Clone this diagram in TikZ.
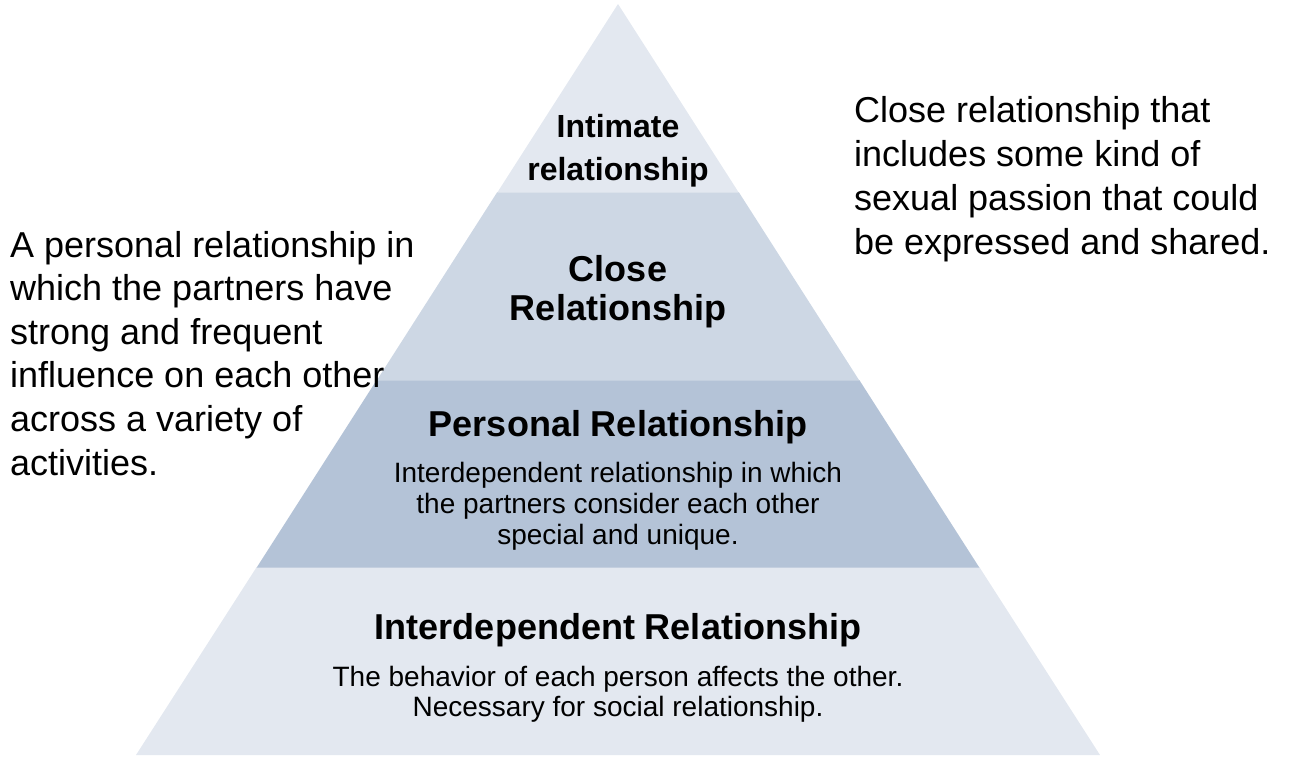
\documentclass[tikz,border=0pt]{standalone}
\usepackage{fontspec}
\setmainfont{Liberation Sans}
\definecolor{layerlight}{HTML}{E3E8F0}
\definecolor{layerclose}{HTML}{CDD7E4}
\definecolor{layerpers}{HTML}{B4C3D7}
\tikzset{
  layer/.style={draw=none},
  title/.style={inner sep=0pt, anchor=base, align=center, font=\bfseries\fontsize{36}{38.5}\selectfont},
  body/.style={inner sep=0pt, anchor=base, align=center, font=\fontsize{28}{31}\selectfont},
  side/.style={inner sep=0pt, anchor=base west, align=left, font=\fontsize{36}{43.6}\selectfont},
}
\begin{document}
\begin{tikzpicture}[x=1pt,y=-1pt]
\useasboundingbox (0,0) rectangle (1306,758);
% pyramid layers
\fill[layer, layerlight] (136,755) -- (1100,755) -- (979.3,567) -- (256.7,567) -- cycle;
\fill[layer, layerpers] (256.7,567.5) -- (979.3,567.5) -- (859.3,380) -- (376.7,380) -- cycle;
\fill[layer, layerclose] (376.7,380.5) -- (859.3,380.5) -- (738.7,192) -- (497.3,192) -- cycle;
\fill[layer, layerlight] (497.3,192.5) -- (738.7,192.5) -- (618,4) -- cycle;
% labels (anchor = baseline of the last line)
\node[title, font=\bfseries\fontsize{32}{43}\selectfont] (intimate) at (618,180) {Intimate\\relationship};
\node[title] (close) at (618,320) {Close\\Relationship};
\node[title] (personal) at (618,436) {Personal Relationship};
\node[body] (personalbody) at (618,544) {Interdependent relationship in which\\the partners consider each other\\special and unique.};
\node[title] (interdep) at (618,639) {Interdependent Relationship};
\node[body, font=\fontsize{28}{30}\selectfont] (interdepbody) at (618,716) {The behavior of each person affects the other.\\Necessary for social relationship.};
% side descriptions
\node[side] (lefttext) at (10,475) {A personal relationship in\\which the partners have\\strong and frequent\\influence on each other\\across a variety of\\activities.};
\node[side, font=\fontsize{36}{43.7}\selectfont] (righttext) at (854,254) {Close relationship that\\includes some kind of\\sexual passion that could\\be expressed and shared.};
\end{tikzpicture}
\end{document}
